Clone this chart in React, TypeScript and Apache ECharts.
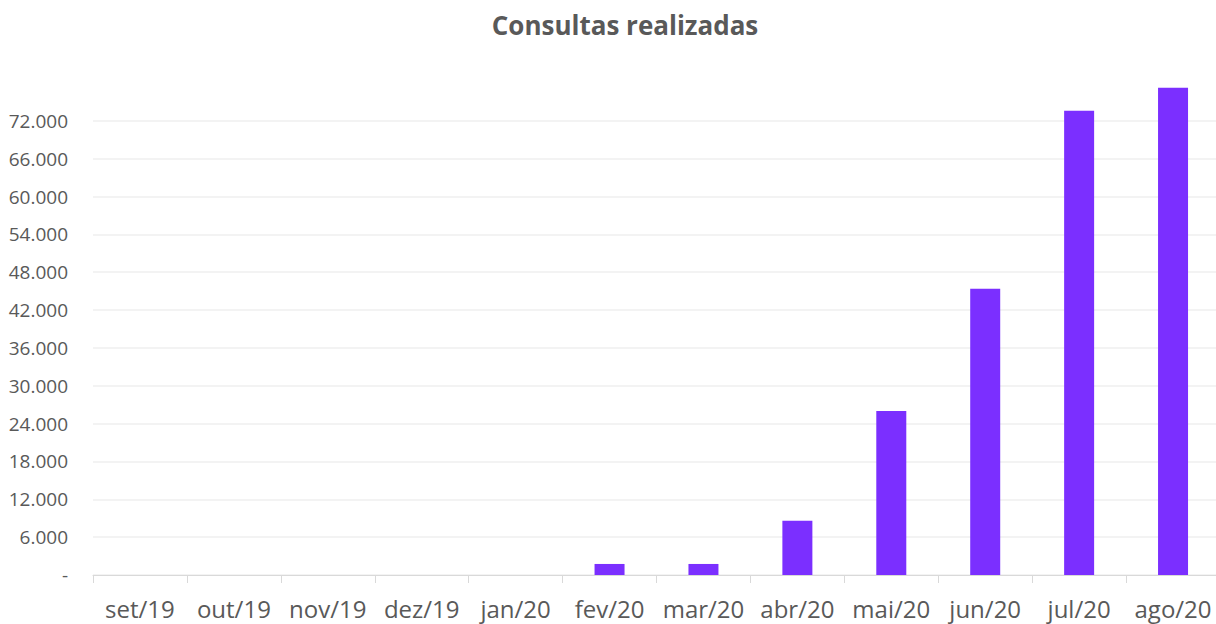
import React, { useEffect, useRef } from "react";
import * as echarts from "echarts";

const categories = ["set/19", "out/19", "nov/19", "dez/19", "jan/20", "fev/20", "mar/20", "abr/20", "mai/20", "jun/20", "jul/20", "ago/20"];
const consultas = [0, 0, 0, 0, 0, 1750, 1750, 8600, 26000, 45400, 73600, 77250];
const titleText = "Consultas realizadas";

export default function App() {
  const ref = useRef<HTMLDivElement>(null);
  useEffect(() => {
    if (!ref.current) return;
    const chart = echarts.init(ref.current, null, { renderer: "svg" });
    chart.setOption({
      animation: false,
      backgroundColor: "#ffffff",
      graphic: [
        {
          type: "text",
          x: 625,
          y: 25,
          style: {
            text: titleText,
            fill: "#595959",
            font: "bold 26px 'Open Sans'",
            textAlign: "center",
            textVerticalAlign: "middle",
          },
        },
      ],
      grid: { left: 93, right: 0, top: 83, bottom: 49, containLabel: false },
      xAxis: {
        type: "category",
        data: categories,
        axisLine: { show: true, lineStyle: { color: "#d9d9d9", width: 1 } },
        axisTick: { show: true, alignWithLabel: false, length: 8, lineStyle: { color: "#d9d9d9" } },
        axisLabel: { color: "#595959", fontSize: 24, fontFamily: "Open Sans", margin: 21, interval: 0 },
      },
      yAxis: {
        type: "value",
        min: 0,
        max: 78000,
        interval: 6000,
        axisLine: { show: false },
        axisTick: { show: false },
        splitLine: { show: true, showMaxLine: false, lineStyle: { color: "#efefef", width: 1.5 } },
        axisLabel: {
          color: "#595959",
          fontSize: 19,
          fontFamily: "Open Sans",
          margin: 25,
          formatter: (v: number) => {
            if (v === 0) return "-";
            if (v > 72000) return "";
            return (v / 1000).toFixed(0) + ".000";
          },
        },
      },
      series: [
        {
          type: "bar",
          data: consultas,
          barWidth: 30,
          itemStyle: { color: "#7b2fff" },
        },
      ],
    });
    return () => chart.dispose();
  }, []);
  return (
    <div
      ref={ref}
      style={{ position: "fixed", left: 0, top: 0, width: 1220, height: 624 }}
    />
  );
}
